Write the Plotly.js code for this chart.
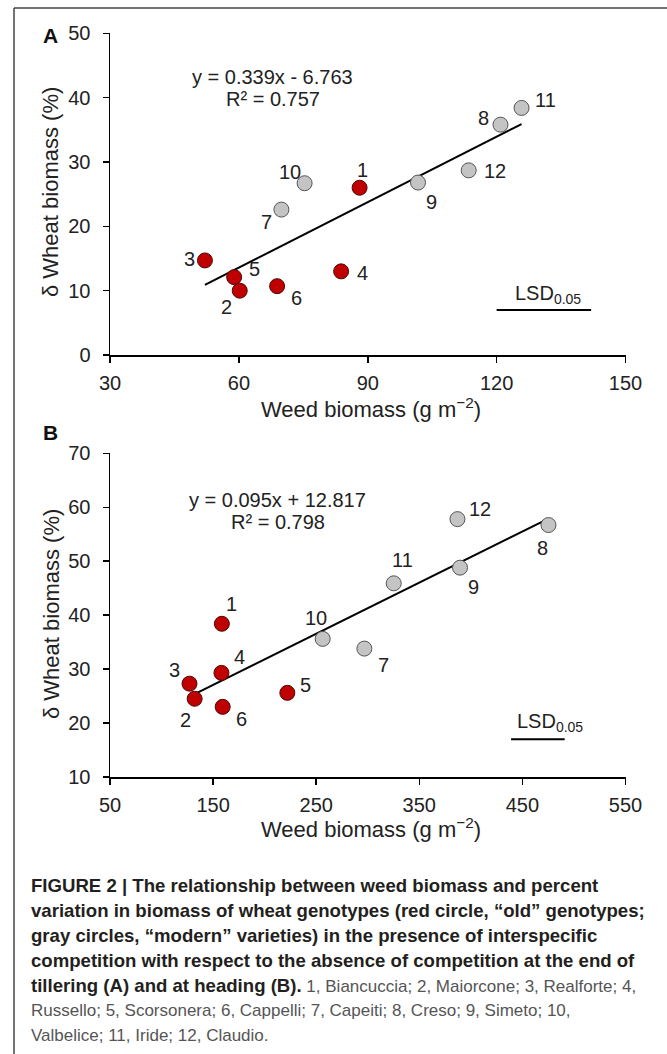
<!DOCTYPE html>
<html>
<head>
<meta charset="utf-8">
<script src="https://cdn.plot.ly/plotly-3.0.1.min.js"></script>
<style>
  html, body { margin: 0; padding: 0; background: #fff; }
  #chart { width: 667px; height: 1054px; }
</style>
</head>
<body>
<div id="chart"></div>
<script>
// ---------- DATA ----------
const genotypeIds = ['1','2','3','4','5','6','7','8','9','10','11','12'];
// genotypes 1-6 "old" (red), 7-12 "modern" (gray)
const oldCount = 6;

// Panel A: end of tillering
const weedA  = [88.1, 60.2, 52.1, 83.8, 58.9, 68.9, 69.9, 120.9, 101.7, 75.3, 125.8, 113.5];
const wheatA = [26.0, 10.0, 14.7, 13.0, 12.1, 10.7, 22.6, 35.8, 26.8, 26.7, 38.4, 28.7];
const trendAx = [52.1, 125.8];
const trendAy = [10.9, 35.9];
const lsdAx = [120, 142];
const lsdAy = [7, 7];
const eqA = 'y = 0.339x - 6.763';
const r2A = 'R² = 0.757';

// Panel B: heading
const weedB  = [158.5, 132.1, 127.1, 158.1, 222.0, 159.3, 296.7, 475.3, 389.5, 256.3, 325.2, 387.0];
const wheatB = [38.4, 24.5, 27.3, 29.3, 25.6, 23.0, 33.8, 56.7, 48.8, 35.6, 45.9, 57.8];
const trendBx = [127.1, 475.3];
const trendBy = [24.9, 57.9];
const lsdBx = [439, 491];
const lsdBy = [17, 17];
const eqB = 'y = 0.095x + 12.817';
const r2B = 'R² = 0.798';

const xTicksA = [30, 60, 90, 120, 150];
const yTicksA = [0, 10, 20, 30, 40, 50];
const xTicksB = [50, 150, 250, 350, 450, 550];
const yTicksB = [10, 20, 30, 40, 50, 60, 70];

const captionBold = [
  'FIGURE 2 | The relationship between weed biomass and percent',
  'variation in biomass of wheat genotypes (red circle, “old” genotypes;',
  'gray circles, “modern” varieties) in the presence of interspecific',
  'competition with respect to the absence of competition at the end of',
  'tillering (A) and at heading (B).',
  '',
  ''
];
const captionPlain = [
  '', '', '', '',
  ' 1, Biancuccia; 2, Maiorcone; 3, Realforte; 4,',
  'Russello; 5, Scorsonera; 6, Cappelli; 7, Capeiti; 8, Creso; 9, Simeto; 10,',
  'Valbelice; 11, Iride; 12, Claudio.'
];

// ---------- STYLE (label offsets in px: [dx, dy-down]) ----------
const labelOffA = [[3,-18],[-13,16],[-15,-1],[21,2],[20,-8],[19,12],[-15,12],[-17,-7],[13,19],[-15,-11],[24,-8],[26,1]];
const labelOffB = [[10,-20],[-9,21],[-15,-14],[18,-16],[18,-8],[19,12],[19,16],[-6,23],[13,19],[-7,-21],[9,-23],[23,-10]];

const FONT = 'Liberation Sans, Arial, Helvetica, sans-serif';
const W = 667, H = 1054;
const px = v => v / W;
const py = v => 1 - v / H;

const RED = '#c00000', RED_LINE = '#4a0a0a';
const GRAY = '#c4c4c4', GRAY_LINE = '#555555';

function panelTraces(xs, ys, tx, ty, lx, ly, xa, ya) {
  return [
    { x: tx, y: ty, xaxis: xa, yaxis: ya, mode: 'lines', type: 'scatter',
      line: { color: '#000', width: 2 }, hoverinfo: 'skip', showlegend: false },
    { x: xs.slice(0, oldCount), y: ys.slice(0, oldCount), xaxis: xa, yaxis: ya,
      mode: 'markers', type: 'scatter', cliponaxis: false,
      marker: { size: 15, color: RED, line: { color: RED_LINE, width: 1 } }, showlegend: false },
    { x: xs.slice(oldCount), y: ys.slice(oldCount), xaxis: xa, yaxis: ya,
      mode: 'markers', type: 'scatter', cliponaxis: false,
      marker: { size: 15, color: GRAY, line: { color: GRAY_LINE, width: 1 } }, showlegend: false },
    { x: lx, y: ly, xaxis: xa, yaxis: ya, mode: 'lines', type: 'scatter',
      line: { color: '#000', width: 2 }, hoverinfo: 'skip', showlegend: false }
  ];
}

const data = [
  ...panelTraces(weedA, wheatA, trendAx, trendAy, lsdAx, lsdAy, 'x', 'y'),
  ...panelTraces(weedB, wheatB, trendBx, trendBy, lsdBx, lsdBy, 'x2', 'y2')
];

const axisCommon = {
  showline: true, linecolor: '#000', linewidth: 1.5,
  ticks: 'outside', ticklen: 6, tickwidth: 1.5, tickcolor: '#000',
  showgrid: false, zeroline: false, fixedrange: true,
  tickfont: { family: FONT, size: 20, color: '#222' }
};

const annFont = { family: FONT, size: 20, color: '#222' };
const annotations = [];

function pointLabels(xs, ys, offs, xref, yref) {
  xs.forEach((xv, i) => {
    annotations.push({ x: xv, y: ys[i], xref, yref, xanchor: 'center', yanchor: 'middle',
      text: genotypeIds[i], showarrow: false,
      xshift: offs[i][0], yshift: -offs[i][1], font: annFont });
  });
}
pointLabels(weedA, wheatA, labelOffA, 'x', 'y');
pointLabels(weedB, wheatB, labelOffB, 'x2', 'y2');

// equations
annotations.push({ x: 67.9, y: 43.2, xref: 'x', yref: 'y', xanchor: 'center', yanchor: 'middle', text: eqA, showarrow: false, font: annFont });
annotations.push({ x: 67.9, y: 39.75, xref: 'x', yref: 'y', xanchor: 'center', yanchor: 'middle', text: r2A, showarrow: false, font: annFont });
annotations.push({ x: 212.5, y: 61.4, xref: 'x2', yref: 'y2', xanchor: 'center', yanchor: 'middle', text: eqB, showarrow: false, font: annFont });
annotations.push({ x: 212.5, y: 57.3, xref: 'x2', yref: 'y2', xanchor: 'center', yanchor: 'middle', text: r2B, showarrow: false, font: annFont });

// LSD labels
annotations.push({ x: 123.8, y: 9.9, xref: 'x', yref: 'y', xanchor: 'left', yanchor: 'middle',
  text: 'LSD<sub>0.05</sub>', showarrow: false, font: annFont, yshift: -3 });
annotations.push({ x: 442.7, y: 20.6, xref: 'x2', yref: 'y2', xanchor: 'left', yanchor: 'middle',
  text: 'LSD<sub>0.05</sub>', showarrow: false, font: annFont, yshift: -3 });

// panel letters
annotations.push({ x: px(50), y: py(35), xref: 'paper', yref: 'paper', xanchor: 'center', yanchor: 'middle',
  text: '<b>A</b>', showarrow: false, font: { family: FONT, size: 21, color: '#111' } });
annotations.push({ x: px(50), y: py(432), xref: 'paper', yref: 'paper', xanchor: 'center', yanchor: 'middle',
  text: '<b>B</b>', showarrow: false, font: { family: FONT, size: 21, color: '#111' } });

// axis titles
const titleFont = { family: FONT, size: 22, color: '#222' };
annotations.push({ x: px(51), y: py(192), xref: 'paper', yref: 'paper', xanchor: 'center', yanchor: 'middle',
  text: 'δ Wheat biomass (%)', textangle: -90, showarrow: false, font: titleFont });
annotations.push({ x: px(51), y: py(614), xref: 'paper', yref: 'paper', xanchor: 'center', yanchor: 'middle',
  text: 'δ Wheat biomass (%)', textangle: -90, showarrow: false, font: titleFont });
annotations.push({ x: px(371), y: py(408), xref: 'paper', yref: 'paper', xanchor: 'center', yanchor: 'middle',
  text: 'Weed biomass (g m<sup>−2</sup>)', showarrow: false, font: titleFont });
annotations.push({ x: px(371), y: py(828), xref: 'paper', yref: 'paper', xanchor: 'center', yanchor: 'middle',
  text: 'Weed biomass (g m<sup>−2</sup>)', showarrow: false, font: titleFont });

// caption
captionBold.forEach((b, i) => {
  let t = '';
  if (b) t += '<b>' + b + '</b>';
  if (captionPlain[i]) t += '<span style="color:#555;font-size:17px">' + captionPlain[i] + '</span>';
  annotations.push({ x: px(29), y: py(885 + 25 * i), xref: 'paper', yref: 'paper', xanchor: 'left', yanchor: 'middle',
    text: t, showarrow: false, align: 'left', font: { family: FONT, size: 18.6, color: '#231f20' } });
});

const layout = {
  width: W, height: H,
  margin: { l: 0, r: 0, t: 0, b: 0 },
  paper_bgcolor: '#fff', plot_bgcolor: '#fff',
  showlegend: false,
  font: { family: FONT },
  xaxis: Object.assign({}, axisCommon, { domain: [px(110), px(625.5)], range: [30, 150], tickvals: xTicksA, anchor: 'y', ticklabelstandoff: 3 }),
  yaxis: Object.assign({}, axisCommon, { domain: [py(355), py(33.3)], range: [0, 50], tickvals: yTicksA, anchor: 'x', ticklabelstandoff: 8 }),
  xaxis2: Object.assign({}, axisCommon, { domain: [px(110), px(625.5)], range: [50, 550], tickvals: xTicksB, anchor: 'y2', ticklabelstandoff: 3 }),
  yaxis2: Object.assign({}, axisCommon, { domain: [py(777), py(453.3)], range: [10, 70], tickvals: yTicksB, anchor: 'x2', ticklabelstandoff: 8 }),
  annotations: annotations,
  shapes: [
    { type: 'line', xref: 'paper', yref: 'paper', x0: px(14), x1: 1, y0: py(8), y1: py(8), line: { color: '#444', width: 1.5 } },
    { type: 'line', xref: 'paper', yref: 'paper', x0: px(14), x1: px(14), y0: py(8), y1: 0, line: { color: '#444', width: 1.5 } }
  ]
};

Plotly.newPlot('chart', data, layout, { displayModeBar: false, staticPlot: true });
</script>
</body>
</html>
